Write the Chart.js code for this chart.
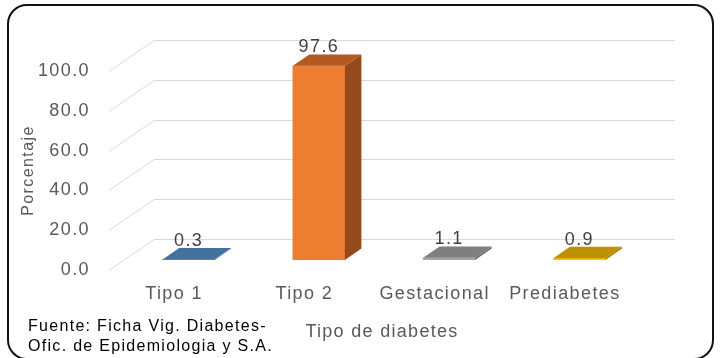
<!DOCTYPE html>
<html lang="es">
<head>
  <meta charset="UTF-8" />
  <meta name="viewport" content="width=device-width, initial-scale=1.0" />
  <title>Tipo de diabetes</title>
  <script src="https://cdn.jsdelivr.net/npm/chart.js"></script>
  <style>
    body { margin: 0; background: #fff; overflow: hidden; font-family: "Liberation Sans", Arial, sans-serif; }
    #wrap { position: relative; width: 721px; height: 358px; }
    #frame { position: absolute; left: 7px; top: 4px; width: 707px; height: 356px; box-sizing: border-box;
             border: 2px solid #111; border-radius: 20px; }
    canvas { position: absolute; left: 0; top: 0; }
    #xtitle { position: absolute; left: 382px; top: 320px; transform: translateX(-50%); white-space: nowrap;
              font-size: 18px; line-height: 22px; letter-spacing: 1.3px; color: #595959; }
    #fuente { position: absolute; left: 28px; top: 316px; font-size: 16px; line-height: 20px;
              letter-spacing: 1.3px; color: #000; white-space: nowrap; }
  </style>
</head>
<body>
  <div id="wrap">
    <div id="frame"></div>
    <canvas id="chart" width="721" height="358"></canvas>
    <div id="xtitle">Tipo de diabetes</div>
    <div id="fuente">Fuente: Ficha Vig. Diabetes-<br>Ofic. de Epidemiologia y S.A.</div>
  </div>

  <script>
    const categories = ['Tipo 1', 'Tipo 2', 'Gestacional', 'Prediabetes'];
    const porcentajes = [0.3, 97.6, 1.1, 0.9];
    const yTicks = [0, 20, 40, 60, 80, 100];

    const frontColors = ['#5B9BD5', '#ED7D31', '#A5A5A5', '#FFC000'];
    const topColors = ['#41719C', '#B4591F', '#7F7F7F', '#BF9000'];
    const sideColors = ['#35618A', '#964A1B', '#6B6B6B', '#A07800'];

    // perspective: back wall offset, bar plane offset, bar depth
    const WALL = { x: 45, y: -31 };
    const SHIFT = { x: 14.5, y: -10 };
    const DEPTH = { x: 16.5, y: -11.4 };

    Chart.defaults.font.family = '"Liberation Sans", Arial, sans-serif';

    const depth3d = {
      id: 'depth3d',
      beforeUpdate(chart) { chart.ctx.letterSpacing = '1.4px'; },
      beforeDatasetsDraw(chart) {
        const { ctx, chartArea: a, scales: { y } } = chart;
        ctx.save();
        ctx.strokeStyle = '#D9D9D9';
        ctx.lineWidth = 1;
        yTicks.forEach(v => {
          const py = Math.round(y.getPixelForValue(v)) + 0.5;
          ctx.beginPath();
          ctx.moveTo(a.left, py);
          ctx.lineTo(a.left + WALL.x, py + WALL.y);
          ctx.lineTo(a.right + WALL.x, py + WALL.y);
          ctx.stroke();
        });
        ctx.restore();
        ctx.save();
        ctx.translate(SHIFT.x, SHIFT.y);
      },
      afterDatasetsDraw(chart) {
        const ctx = chart.ctx;
        chart.getDatasetMeta(0).data.forEach((bar, i) => {
          const l = bar.x - bar.width / 2, r = bar.x + bar.width / 2, t = bar.y, b = bar.base;
          ctx.fillStyle = sideColors[i];
          ctx.beginPath();
          ctx.moveTo(r, t);
          ctx.lineTo(r + DEPTH.x, t + DEPTH.y);
          ctx.lineTo(r + DEPTH.x, b + DEPTH.y);
          ctx.lineTo(r, b);
          ctx.closePath();
          ctx.fill();

          ctx.fillStyle = topColors[i];
          ctx.beginPath();
          ctx.moveTo(l, t);
          ctx.lineTo(r, t);
          ctx.lineTo(r + DEPTH.x, t + DEPTH.y);
          ctx.lineTo(l + DEPTH.x, t + DEPTH.y);
          ctx.closePath();
          ctx.fill();

          ctx.fillStyle = '#404040';
          ctx.font = '18px "Liberation Sans", Arial, sans-serif';
          ctx.textAlign = 'center';
          ctx.textBaseline = 'middle';
          ctx.fillText(porcentajes[i].toFixed(1), bar.x, t - 18.5);
        });
        ctx.restore();
      }
    };

    new Chart(document.getElementById('chart'), {
      type: 'bar',
      data: {
        labels: categories,
        datasets: [{
          data: porcentajes,
          backgroundColor: frontColors,
          borderWidth: 0,
          barThickness: 52
        }]
      },
      options: {
        responsive: false,
        animation: false,
        layout: { padding: { left: 14, right: 91, top: 71, bottom: 48 } },
        plugins: { legend: { display: false }, tooltip: { enabled: false } },
        scales: {
          x: {
            grid: { display: false, drawTicks: false },
            border: { display: false },
            ticks: { color: '#595959', font: { size: 18 }, padding: 13, maxRotation: 0, autoSkip: false },
            afterFit(s) { s.height = 40; }
          },
          y: {
            min: 0,
            max: 100,
            afterBuildTicks(s) { s.ticks = yTicks.map(v => ({ value: v })); },
            grid: { display: false, drawTicks: false },
            border: { display: false },
            ticks: { color: '#595959', font: { size: 18 }, padding: 19, callback: v => v.toFixed(1) },
            title: { display: true, text: 'Porcentaje', color: '#595959', font: { size: 16 }, padding: { top: 5, bottom: 0 } },
            afterFit(s) { s.width = 95; }
          }
        }
      },
      plugins: [depth3d]
    });
  </script>
</body>
</html>
